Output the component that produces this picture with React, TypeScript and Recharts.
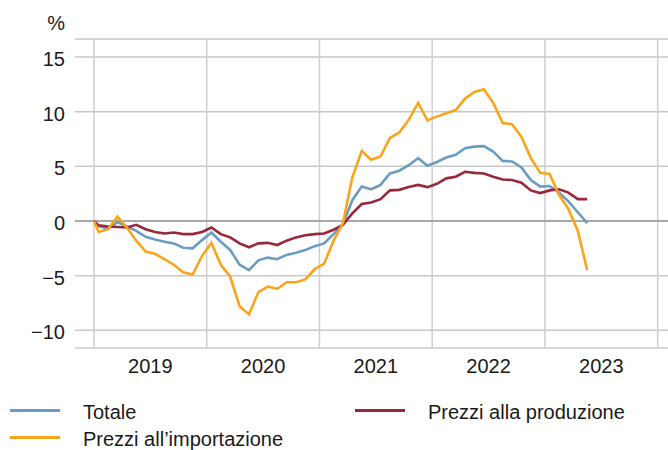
import React from 'react';
import {
  LineChart,
  Line,
  XAxis,
  YAxis,
  CartesianGrid,
  ReferenceLine,
  Legend,
} from 'recharts';

// first value = base (Dec 2018 = 0), then monthly Jan 2019 .. May 2023
const totale = [
  0,
  -0.5, -0.7, -0.1, -0.5, -0.9, -1.45, -1.7, -1.9, -2.05, -2.45, -2.5, -1.75,
  -1.05, -1.9, -2.65, -4.0, -4.5, -3.6, -3.35, -3.5, -3.1, -2.9, -2.65, -2.3,
  -2.05, -1.2, -0.3, 1.9, 3.15, 2.9, 3.3, 4.35, 4.6, 5.1, 5.75, 5.05,
  5.4, 5.8, 6.05, 6.65, 6.8, 6.85, 6.35, 5.5, 5.45, 4.9, 3.75, 3.15,
  3.2, 2.6, 1.8, 0.8, -0.2,
];

const importazione = [
  0,
  -1.0, -0.75, 0.4, -0.6, -1.8, -2.8, -3.0, -3.5, -4.0, -4.7, -4.9, -3.2,
  -2.0, -4.0, -5.1, -7.8, -8.55, -6.5, -6.0, -6.2, -5.6, -5.6, -5.35, -4.4,
  -3.9, -1.8, -0.2, 4.0, 6.4, 5.6, 5.9, 7.6, 8.1, 9.25, 10.8, 9.2,
  9.55, 9.85, 10.15, 11.2, 11.8, 12.05, 10.8, 8.95, 8.85, 7.7, 5.75, 4.4,
  4.3, 2.4, 1.1, -0.9, -4.5,
];

const produzione = [
  0,
  -0.4, -0.5, -0.55, -0.6, -0.35, -0.75, -1.0, -1.15, -1.05, -1.2, -1.2, -1.0,
  -0.6, -1.2, -1.5, -2.05, -2.4, -2.05, -2.0, -2.2, -1.8, -1.5, -1.3, -1.2,
  -1.15, -0.8, -0.35, 0.7, 1.55, 1.7, 2.0, 2.8, 2.85, 3.1, 3.3, 3.1,
  3.4, 3.9, 4.05, 4.5, 4.4, 4.35, 4.05, 3.8, 3.75, 3.5, 2.8, 2.55,
  2.8, 2.9, 2.6, 2.0, 2.0,
];

const years = ['2019', '2020', '2021', '2022', '2023'];
const yearStarts = [0, 12, 24, 36, 48, 60];
const yTicks = [-10, -5, 0, 5, 10, 15];

// months are drawn mid-month; the base point sits on the start of 2019
const data = totale.map((v, i) => ({
  t: i === 0 ? 0 : i - 0.5,
  totale: v,
  importazione: importazione[i],
  produzione: produzione[i],
}));

const yearTicks = years.map((_, i) => yearStarts[i] + 6);

const FONT = '"Liberation Sans", Arial, sans-serif';
const TEXT = '#1a1a1a';

const legendSlots: Record<string, { left: number; top: number }> = {
  totale: { left: 10, top: 5 },
  produzione: { left: 355, top: 5 },
  importazione: { left: 10, top: 32 },
};

function ChartLegend({ payload }: any) {
  return (
    <div style={{ position: 'relative', width: 668, height: 55 }}>
      {(payload || []).map((p: any) => {
        const slot = legendSlots[p.dataKey];
        return (
          <div
            key={p.dataKey}
            style={{
              position: 'absolute',
              left: slot.left,
              top: slot.top,
              display: 'flex',
              alignItems: 'center',
              height: 24,
              lineHeight: '24px',
              fontSize: 20,
              fontFamily: FONT,
              color: TEXT,
              whiteSpace: 'nowrap',
            }}
          >
            <span
              style={{
                display: 'inline-block',
                width: 50,
                height: 3,
                background: p.color,
                marginRight: 23,
                transform: 'translateY(-2px)',
              }}
            />
            <span>{p.value}</span>
          </div>
        );
      })}
    </div>
  );
}

function YTick({ x, y, payload }: any) {
  const v = payload.value;
  const label = v < 0 ? '\u2212' + Math.abs(v) : String(v);
  return (
    <text x={x} y={y} dy={9} textAnchor="end" fill={TEXT} fontSize={20} fontFamily={FONT}>
      {label}
    </text>
  );
}

function XTick({ x, y, payload }: any) {
  const idx = yearTicks.indexOf(payload.value);
  return (
    <text x={x} y={y} dy={25} textAnchor="middle" fill={TEXT} fontSize={20} fontFamily={FONT}>
      {years[idx]}
    </text>
  );
}

export default function App() {
  return (
    <div style={{ position: 'absolute', left: 0, top: 0, width: 668, height: 450, background: '#fff' }}>
      <div
        style={{
          position: 'absolute',
          left: 0,
          top: 11,
          width: 65,
          textAlign: 'right',
          fontSize: 20,
          lineHeight: '24px',
          fontFamily: FONT,
          color: TEXT,
        }}
      >
        %
      </div>
      <LineChart
        width={668}
        height={450}
        data={data}
        margin={{ top: 39, right: 0, bottom: 0, left: 0 }}
      >
        <CartesianGrid vertical={false} stroke="#c8c8c8" strokeWidth={1.5} />
        {yearStarts.map((m) => (
          <ReferenceLine key={m} x={m} stroke="#cfcfcf" strokeWidth={1.5} />
        ))}
        <ReferenceLine y={0} stroke="#a8a8a8" strokeWidth={2} />
        <XAxis
          dataKey="t"
          type="number"
          domain={[-2.02, 61.1]}
          allowDataOverflow
          ticks={yearTicks}
          tick={<XTick />}
          axisLine={false}
          tickLine={false}
          tickSize={0}
          tickMargin={0}
          height={47}
          interval={0}
        />
        <YAxis
          type="number"
          domain={[-11.62, 16.65]}
          allowDataOverflow
          ticks={yTicks}
          tick={<YTick />}
          axisLine={false}
          tickLine={false}
          tickSize={0}
          tickMargin={10}
          width={75}
          interval={0}
        />
        <Legend
          verticalAlign="bottom"
          content={(props: any) => <ChartLegend {...props} />}
          wrapperStyle={{ left: 0, bottom: 0, width: 668, height: 55 }}
        />
        <Line
          type="linear"
          dataKey="totale"
          name="Totale"
          stroke="#6b9dc4"
          strokeWidth={2.6}
          dot={false}
          isAnimationActive={false}
        />
        <Line
          type="linear"
          dataKey="produzione"
          name="Prezzi alla produzione"
          stroke="#98283b"
          strokeWidth={2.6}
          dot={false}
          isAnimationActive={false}
        />
        <Line
          type="linear"
          dataKey="importazione"
          name="Prezzi all’importazione"
          stroke="#f9a51c"
          strokeWidth={2.6}
          dot={false}
          isAnimationActive={false}
        />
      </LineChart>
    </div>
  );
}
